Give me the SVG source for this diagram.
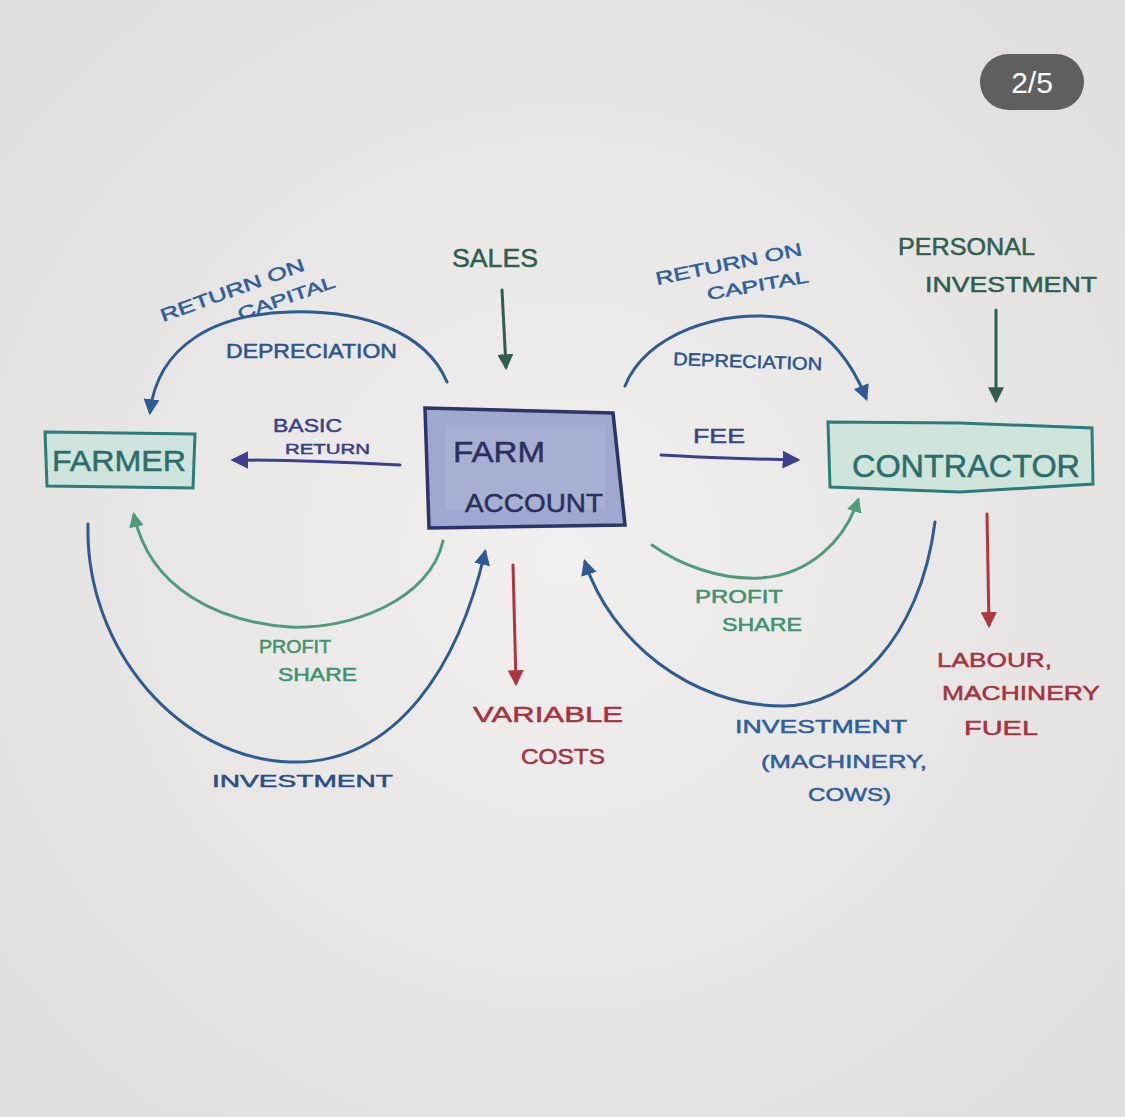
<svg xmlns="http://www.w3.org/2000/svg" width="1125" height="1117" viewBox="0 0 1125 1117">
<defs>
<radialGradient id="paper" cx="50%" cy="50%" r="70%">
<stop offset="0" stop-color="#f1f0ee"/>
<stop offset="1" stop-color="#dfdedc"/>
</radialGradient>
<marker id="ahBlue" viewBox="0 0 10 10" refX="8" refY="5" markerWidth="16" markerHeight="16" markerUnits="userSpaceOnUse" orient="auto"><path d="M0,0 L10,5 L0,10 z" fill="#2d5b95"/></marker>
<marker id="ahGreen" viewBox="0 0 10 10" refX="8" refY="5" markerWidth="15" markerHeight="15" markerUnits="userSpaceOnUse" orient="auto"><path d="M0,0 L10,5 L0,10 z" fill="#4f9c7c"/></marker>
<marker id="ahDark" viewBox="0 0 10 10" refX="8" refY="5" markerWidth="16" markerHeight="16" markerUnits="userSpaceOnUse" orient="auto"><path d="M0,0 L10,5 L0,10 z" fill="#2f5e50"/></marker>
<marker id="ahRed" viewBox="0 0 10 10" refX="8" refY="5" markerWidth="16" markerHeight="16" markerUnits="userSpaceOnUse" orient="auto"><path d="M0,0 L10,5 L0,10 z" fill="#b0353f"/></marker>
<marker id="ahPurple" viewBox="0 0 10 10" refX="8" refY="5" markerWidth="18" markerHeight="18" markerUnits="userSpaceOnUse" orient="auto"><path d="M0,0 L10,5 L0,10 z" fill="#3d3f8e"/></marker>
</defs>
<style>
text{font-family:"Liberation Sans","DejaVu Sans",sans-serif;stroke-width:0.5;}
.c{fill:none;stroke-width:3;stroke-linecap:round;}
.blue{stroke:#2d5b95;}
.green{stroke:#4f9c7c;}
.dark{stroke:#2f5e50;}
.red{stroke:#b0353f;}
.purple{stroke:#3d3f8e;}
.tBlue{fill:#2f5e9e;stroke:#2f5e9e;}
.tDep{fill:#2a5590;stroke:#2a5590;}
.tPur{fill:#3a418a;stroke:#3a418a;}
.tDark{fill:#2f5e4f;stroke:#2f5e4f;}
.tGreen{fill:#3f9270;stroke:#3f9270;}
.tRed{fill:#a8323f;stroke:#a8323f;}
.tInv{fill:#2c4e88;stroke:#2c4e88;}
</style>
<rect width="1125" height="1117" fill="url(#paper)"/>
<g id="badge">
<rect x="980" y="54" width="104" height="56" rx="28" fill="#5f5f5f"/>
<text x="1032" y="93" font-size="30" fill="#ffffff" text-anchor="middle" style="stroke:none">2/5</text>
</g>

<g id="connectors">
<path class="c blue" d="M447,382 C425,330 360,310 290,312 C215,314 158,345 150,412" marker-end="url(#ahBlue)"/>
<path class="c blue" d="M625,386 C645,335 720,308 785,318 C830,326 855,370 866,398" marker-end="url(#ahBlue)"/>
<path class="c purple" d="M400,465 C340,462 290,460 234,460" marker-end="url(#ahPurple)"/>
<path class="c purple" d="M661,455 C710,458 760,459 797,460" marker-end="url(#ahPurple)"/>
<path class="c dark" d="M502,290 L506,367" marker-end="url(#ahDark)"/>
<path class="c dark" d="M996,310 L996,400" marker-end="url(#ahDark)"/>
<path class="c green" d="M443,541 C430,600 350,630 290,627 C220,622 150,590 134,515" marker-end="url(#ahGreen)"/>
<path class="c blue" d="M88,524 C85,650 180,758 290,762 C400,765 460,660 485,552" marker-end="url(#ahBlue)"/>
<path class="c red" d="M513,565 L516,683" marker-end="url(#ahRed)"/>
<path class="c green" d="M652,545 C680,565 720,580 760,578 C810,575 845,540 858,500" marker-end="url(#ahGreen)"/>
<path class="c blue" d="M935,522 C920,640 850,706 783,706 C690,706 610,640 585,562" marker-end="url(#ahBlue)"/>
<path class="c red" d="M987,514 L989,625" marker-end="url(#ahRed)"/>
</g>

<g id="farmer">
<path d="M45,432 L195,434 L193,488 L47,486 Z" fill="#cfe4dc" stroke="#2b7c7a" stroke-width="3"/>
<text x="52" y="471" font-size="30" fill="#2b6e6a" stroke="#2b6e6a" textLength="134" lengthAdjust="spacingAndGlyphs">FARMER</text>
</g>

<g id="farm-account">
<path d="M425,408 L613,413 L625,525 L429,528 Z" fill="#a0a8cf" stroke="#2d3566" stroke-width="3.5"/>
<rect x="445" y="425" width="160" height="85" fill="#b0b7d8" opacity="0.45"/>
<text x="453" y="462" font-size="30" fill="#2b2f5c" stroke="#2b2f5c" textLength="92" lengthAdjust="spacingAndGlyphs">FARM</text>
<text x="465" y="512" font-size="26" fill="#2b2f5c" stroke="#2b2f5c" textLength="138" lengthAdjust="spacingAndGlyphs">ACCOUNT</text>
</g>

<g id="contractor">
<path d="M828,422 L960,423 L1092,428 L1093,484 L960,492 L830,487 Z" fill="#cfe4da" stroke="#2b7c7a" stroke-width="3"/>
<text x="852" y="477" font-size="32" fill="#2a6e6c" stroke="#2a6e6c" textLength="228" lengthAdjust="spacingAndGlyphs">CONTRACTOR</text>
</g>

<g id="labels">
<text x="163" y="322" font-size="18" class="tBlue" transform="rotate(-20 163 322)" textLength="152" lengthAdjust="spacingAndGlyphs">RETURN ON</text>
<text x="240" y="320" font-size="17" class="tBlue" transform="rotate(-19 240 320)" textLength="102" lengthAdjust="spacingAndGlyphs">CAPITAL</text>
<text x="226" y="358" font-size="20" class="tDep" textLength="171" lengthAdjust="spacingAndGlyphs">DEPRECIATION</text>
<text x="273" y="432" font-size="18" class="tPur" textLength="69" lengthAdjust="spacingAndGlyphs">BASIC</text>
<text x="285" y="454" font-size="15" class="tPur" textLength="85" lengthAdjust="spacingAndGlyphs">RETURN</text>
<text x="452" y="267" font-size="26" class="tDark" textLength="86" lengthAdjust="spacingAndGlyphs">SALES</text>
<text x="657" y="285" font-size="18" class="tBlue" transform="rotate(-11.6 657 285)" textLength="149" lengthAdjust="spacingAndGlyphs">RETURN ON</text>
<text x="708" y="300" font-size="17" class="tBlue" transform="rotate(-10 708 300)" textLength="103" lengthAdjust="spacingAndGlyphs">CAPITAL</text>
<text x="673" y="365" font-size="18" class="tDep" transform="rotate(2 673 365)" textLength="149" lengthAdjust="spacingAndGlyphs">DEPRECIATION</text>
<text x="898" y="255" font-size="24" class="tDark" textLength="137" lengthAdjust="spacingAndGlyphs">PERSONAL</text>
<text x="925" y="292" font-size="22" class="tDark" textLength="172" lengthAdjust="spacingAndGlyphs">INVESTMENT</text>
<text x="693" y="443" font-size="21" class="tPur" textLength="52" lengthAdjust="spacingAndGlyphs">FEE</text>
<text x="259" y="653" font-size="18" class="tGreen" textLength="72" lengthAdjust="spacingAndGlyphs">PROFIT</text>
<text x="278" y="681" font-size="18" class="tGreen" textLength="79" lengthAdjust="spacingAndGlyphs">SHARE</text>
<text x="212" y="787" font-size="17" class="tInv" textLength="181" lengthAdjust="spacingAndGlyphs">INVESTMENT</text>
<text x="473" y="722" font-size="22" class="tRed" textLength="150" lengthAdjust="spacingAndGlyphs">VARIABLE</text>
<text x="521" y="764" font-size="22" class="tRed" textLength="84" lengthAdjust="spacingAndGlyphs">COSTS</text>
<text x="695" y="603" font-size="18" class="tGreen" textLength="88" lengthAdjust="spacingAndGlyphs">PROFIT</text>
<text x="722" y="631" font-size="18" class="tGreen" textLength="80" lengthAdjust="spacingAndGlyphs">SHARE</text>
<text x="735" y="733" font-size="19" class="tBlue" textLength="172" lengthAdjust="spacingAndGlyphs">INVESTMENT</text>
<text x="761" y="768" font-size="19" class="tBlue" textLength="166" lengthAdjust="spacingAndGlyphs">(MACHINERY,</text>
<text x="808" y="801" font-size="19" class="tBlue" textLength="83" lengthAdjust="spacingAndGlyphs">COWS)</text>
<text x="937" y="667" font-size="21" class="tRed" textLength="115" lengthAdjust="spacingAndGlyphs">LABOUR,</text>
<text x="942" y="700" font-size="21" class="tRed" textLength="158" lengthAdjust="spacingAndGlyphs">MACHINERY</text>
<text x="964" y="735" font-size="21" class="tRed" textLength="74" lengthAdjust="spacingAndGlyphs">FUEL</text>
</g>
</svg>
